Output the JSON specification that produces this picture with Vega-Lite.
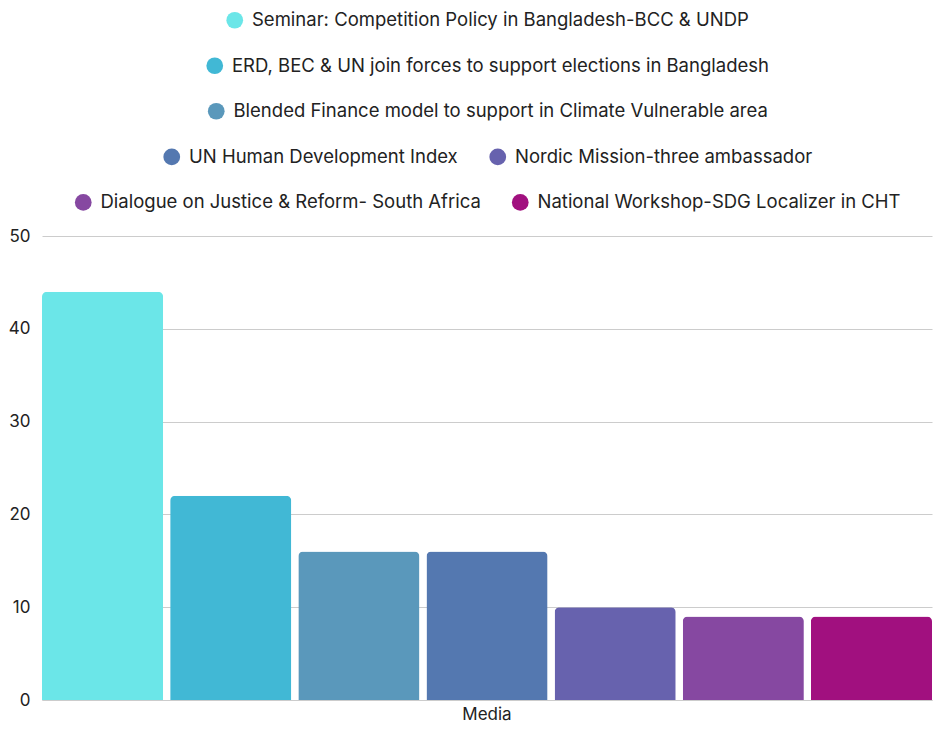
{
  "$schema": "https://vega.github.io/schema/vega-lite/v6.json",
  "width": 938,
  "height": 736,
  "autosize": {"type": "fit", "contains": "padding"},
  "padding": {"left": 8, "top": 11, "right": 6, "bottom": 14},
  "data": {"values": [
    {"category": "Media", "item": "Seminar: Competition Policy in Bangladesh-BCC & UNDP", "group": 1, "value": 44},
    {"category": "Media", "item": "ERD, BEC & UN join forces to support elections in Bangladesh", "group": 2, "value": 22},
    {"category": "Media", "item": "Blended Finance model to support in Climate Vulnerable area", "group": 3, "value": 16},
    {"category": "Media", "item": "UN Human Development Index", "group": 4, "value": 16},
    {"category": "Media", "item": "Nordic Mission-three ambassador", "group": 4, "value": 10},
    {"category": "Media", "item": "Dialogue on Justice & Reform- South Africa", "group": 5, "value": 9},
    {"category": "Media", "item": "National Workshop-SDG Localizer in CHT", "group": 5, "value": 9}
  ]},
  "layer": [
    {
      "transform": [{"filter": "datum.group == 1"}],
      "mark": {"type": "bar", "cornerRadiusTopLeft": 5, "cornerRadiusTopRight": 5},
      "encoding": {
        "x": {"field": "category", "type": "nominal", "scale": {"paddingInner": 0, "paddingOuter": 0}, "axis": {"title": null, "labelAngle": 0}},
        "xOffset": {"field": "item", "type": "nominal", "sort": null, "scale": {"domain": ["Seminar: Competition Policy in Bangladesh-BCC & UNDP", "ERD, BEC & UN join forces to support elections in Bangladesh", "Blended Finance model to support in Climate Vulnerable area", "UN Human Development Index", "Nordic Mission-three ambassador", "Dialogue on Justice & Reform- South Africa", "National Workshop-SDG Localizer in CHT"], "paddingInner": 0.055, "paddingOuter": 0}},
        "y": {"field": "value", "type": "quantitative", "scale": {"domain": [0, 50]}, "axis": {"title": null, "values": [0, 10, 20, 30, 40, 50]}},
        "color": {"field": "item", "type": "nominal", "scale": {"range": ["#6BE6E8"]}}
      }
    },
    {
      "transform": [{"filter": "datum.group == 2"}],
      "mark": {"type": "bar", "cornerRadiusTopLeft": 5, "cornerRadiusTopRight": 5},
      "encoding": {
        "x": {"field": "category", "type": "nominal"},
        "xOffset": {"field": "item", "type": "nominal", "sort": null},
        "y": {"field": "value", "type": "quantitative"},
        "color": {"field": "item", "type": "nominal", "scale": {"range": ["#41B8D5"]}}
      }
    },
    {
      "transform": [{"filter": "datum.group == 3"}],
      "mark": {"type": "bar", "cornerRadiusTopLeft": 5, "cornerRadiusTopRight": 5},
      "encoding": {
        "x": {"field": "category", "type": "nominal"},
        "xOffset": {"field": "item", "type": "nominal", "sort": null},
        "y": {"field": "value", "type": "quantitative"},
        "color": {"field": "item", "type": "nominal", "scale": {"range": ["#5A98BB"]}}
      }
    },
    {
      "transform": [{"filter": "datum.group == 4"}],
      "mark": {"type": "bar", "cornerRadiusTopLeft": 5, "cornerRadiusTopRight": 5},
      "encoding": {
        "x": {"field": "category", "type": "nominal"},
        "xOffset": {"field": "item", "type": "nominal", "sort": null},
        "y": {"field": "value", "type": "quantitative"},
        "color": {"field": "item", "type": "nominal", "sort": null, "scale": {"domain": ["UN Human Development Index", "Nordic Mission-three ambassador"], "range": ["#5478B0", "#6762AE"]}}
      }
    },
    {
      "transform": [{"filter": "datum.group == 5"}],
      "mark": {"type": "bar", "cornerRadiusTopLeft": 5, "cornerRadiusTopRight": 5},
      "encoding": {
        "x": {"field": "category", "type": "nominal"},
        "xOffset": {"field": "item", "type": "nominal", "sort": null},
        "y": {"field": "value", "type": "quantitative"},
        "color": {"field": "item", "type": "nominal", "sort": null, "scale": {"domain": ["Dialogue on Justice & Reform- South Africa", "National Workshop-SDG Localizer in CHT"], "range": ["#8648A1", "#A1107F"]}}
      }
    }
  ],
  "resolve": {"scale": {"color": "independent"}},
  "config": {
    "font": "Inter",
    "view": {"stroke": null},
    "axisY": {"domain": false, "ticks": false, "labelFontSize": 17, "labelColor": "#222222", "labelPadding": 12, "gridColor": "#CCCCCC", "labelFont": "Inter"},
    "axisX": {"domainColor": "#CCCCCC", "ticks": false, "labelFontSize": 17, "labelColor": "#222222", "labelPadding": 6, "labelFont": "Inter"},
    "legend": {
      "orient": "top",
      "direction": "horizontal",
      "title": null,
      "symbolType": "circle",
      "symbolSize": 280,
      "symbolStrokeWidth": 0,
      "labelFontSize": 18.5,
      "labelFont": "Inter",
      "labelColor": "#222222",
      "labelLimit": 700,
      "labelOffset": 8,
      "columnPadding": 30,
      "offset": 24,
      "layout": {"top": {"direction": "vertical", "anchor": "middle", "center": true, "margin": 26.5}}
    }
  }
}
